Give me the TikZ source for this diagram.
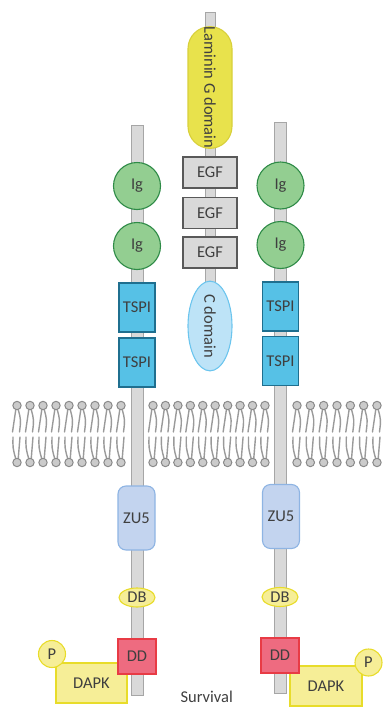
\documentclass[tikz,border=0pt]{standalone}
\usepackage{fontspec}
\setmainfont{Carlito}
\usetikzlibrary{shapes.geometric}

\definecolor{txt}{HTML}{3F3F3F}
\definecolor{rodfill}{HTML}{D9D9D9}
\definecolor{roddraw}{HTML}{A6A6A6}
\definecolor{lamfill}{HTML}{E8E24C}
\definecolor{lamdraw}{HTML}{D8D03A}
\definecolor{egffill}{HTML}{D9D9D9}
\definecolor{egfdraw}{HTML}{595959}
\definecolor{cfill}{HTML}{BDE3F7}
\definecolor{cdraw}{HTML}{6CC5EE}
\definecolor{igfill}{HTML}{93CE91}
\definecolor{igdraw}{HTML}{2E8B47}
\definecolor{tspfill}{HTML}{56C1E6}
\definecolor{tspdraw}{HTML}{1F6F8F}
\definecolor{zufill}{HTML}{C3D4EF}
\definecolor{zudraw}{HTML}{8EB4E3}
\definecolor{yelfill}{HTML}{F6EE97}
\definecolor{yeldraw}{HTML}{E8DC2A}
\definecolor{ddfill}{HTML}{EE6B80}
\definecolor{dddraw}{HTML}{E83B45}
\definecolor{tailc}{HTML}{9A9A9A}
\definecolor{headfill}{HTML}{CBCBCB}
\definecolor{headdraw}{HTML}{8A8A8A}

\tikzset{
  lbl/.style={font=\fontsize{16.5}{16.5}\selectfont, text=txt, inner sep=0pt, line width=1.1pt},
  rod/.style={fill=rodfill, draw=roddraw, line width=1pt},
  lamdom/.style={lbl, fill=lamfill, draw=lamdraw, rounded corners=22pt, rotate=-90,
                 minimum width=121pt, minimum height=44pt},
  egfdom/.style={lbl, fill=egffill, draw=egfdraw, minimum width=54pt, minimum height=31pt},
  cdom/.style={lbl, ellipse, fill=cfill, draw=cdraw, rotate=-90,
               minimum width=72pt, minimum height=44pt},
  igdom/.style={lbl, circle, fill=igfill, draw=igdraw, minimum size=47pt},
  tspdom/.style={lbl, fill=tspfill, draw=tspdraw, minimum width=36pt, minimum height=49pt},
  zudom/.style={lbl, fill=zufill, draw=zudraw, rounded corners=8pt, minimum width=37pt, minimum height=64pt},
  dbdom/.style={lbl, ellipse, fill=yelfill, draw=yeldraw, minimum width=36pt, minimum height=19pt},
  dddom/.style={lbl, fill=ddfill, draw=dddraw, minimum width=38pt, minimum height=35pt},
  dapk/.style={lbl, fill=yelfill, draw=yeldraw, minimum width=71pt, minimum height=40pt},
  phos/.style={lbl, circle, fill=yelfill, draw=yeldraw, minimum size=27pt},
  lipid/.pic={
    \draw[tailc, line width=1.4pt, line cap=round]
      (-1.2,-24.5) -- (-4.5,-2)
      (1.2,-24.5) .. controls (4,-14) .. (2.5,-2)
      (-4,3) .. controls (-4.2,14) .. (-1.2,25)
      (3,3) -- (1.2,25);
    \draw[fill=headfill, draw=headdraw, line width=1pt] (0,-28.5) circle (4.2pt);
    \draw[fill=headfill, draw=headdraw, line width=1pt] (0,28.5) circle (4.2pt);
  }
}

\begin{document}
\begin{tikzpicture}[x=1pt, y=-1pt]
\useasboundingbox (0,0) rectangle (388,707);

% lipid bilayer, interrupted by the two receptors
\foreach \c in {17,30,...,121} \pic at (\c,434) {lipid};
\foreach \c in {153,165.44,...,266} \pic at (\c,434) {lipid};
\foreach \c in {297,310.33,...,378} \pic at (\c,434) {lipid};

% backbones
\draw[rod] (131,125) rectangle (143,695);
\draw[rod] (205,12) rectangle (215,365);
\draw[rod] (274,122) rectangle (286,693);

% netrin
\node[lamdom] (lam) at (210,87.5) {Laminin G domain};
\node[egfdom] (egf1) at (210,172.5) {EGF};
\node[egfdom] (egf2) at (210,213) {EGF};
\node[egfdom] (egf3) at (210,252.5) {EGF};
\node[cdom] (cdom) at (210,326) {C domain};

% left receptor
\node[igdom] (igL1) at (137,186) {Ig};
\node[igdom] (igL2) at (137,246) {Ig};
\node[tspdom] (tsL1) at (137,307.5) {TSPI};
\node[tspdom] (tsL2) at (137,362.5) {TSPI};
\node[zudom] (zuL) at (136.5,518) {ZU5};
\node[dbdom] (dbL) at (137,597.5) {DB};
\node[dapk] (dapkL) at (91.5,683) {DAPK};
\node[dddom] (ddL) at (137,656.5) {DD};
\node[phos] (pL) at (52,654) {P};

% right receptor
\node[igdom] (igR1) at (280.5,185.5) {Ig};
\node[igdom] (igR2) at (280.5,245) {Ig};
\node[tspdom] (tsR1) at (280.5,306.5) {TSPI};
\node[tspdom] (tsR2) at (280.5,361) {TSPI};
\node[zudom] (zuR) at (281,516.5) {ZU5};
\node[dbdom] (dbR) at (280,597) {DB};
\node[dapk, minimum width=72pt] (dapkR) at (326,686) {DAPK};
\node[dddom] (ddR) at (280,655.5) {DD};
\node[phos] (pR) at (368.5,662.5) {P};

\node[lbl, anchor=base west] (surv) at (180,702) {Survival};
\end{tikzpicture}
\end{document}
